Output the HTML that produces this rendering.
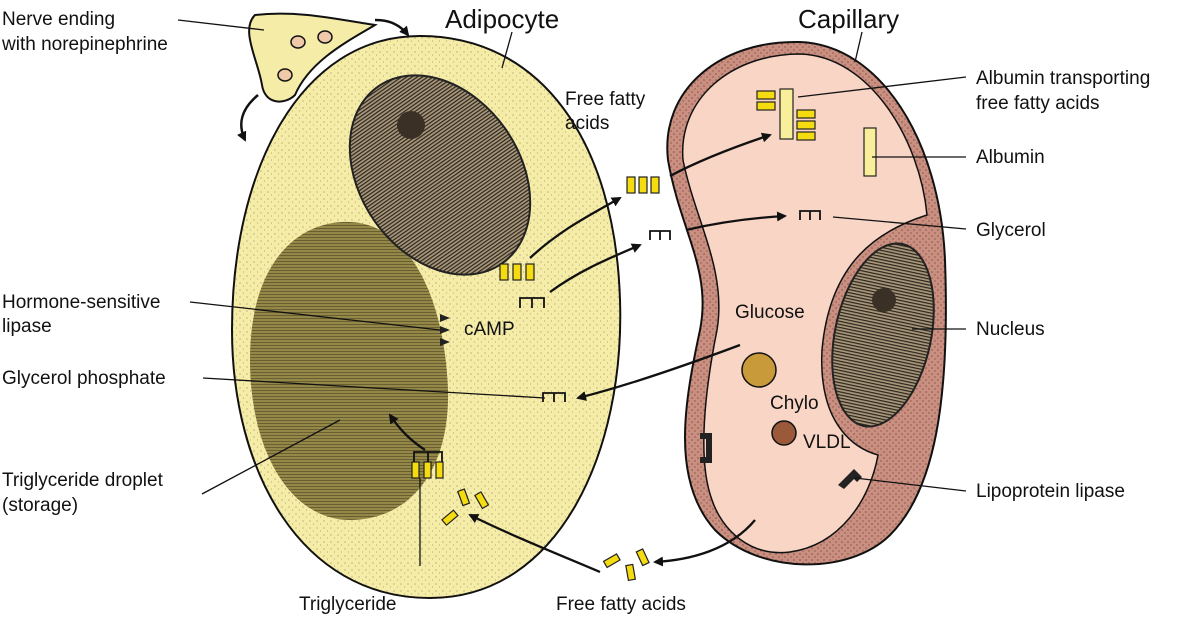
<!DOCTYPE html>
<html><head><meta charset="utf-8"><style>
body{margin:0;background:#fff}
svg text{font-family:"Liberation Sans",Arial,sans-serif;font-size:19px;fill:#111}
</style></head><body>
<svg width="1200" height="616" viewBox="0 0 1200 616" xmlns="http://www.w3.org/2000/svg">
<defs>
<marker id="a" markerWidth="10" markerHeight="10" refX="8" refY="5" orient="auto" markerUnits="userSpaceOnUse"><path d="M0,0 L10,5 L0,10 z" fill="#111"/></marker>
<pattern id="hatch" width="4" height="3" patternUnits="userSpaceOnUse"><rect width="4" height="3" fill="#948849"/><rect width="4" height="1" fill="#6a5f30"/></pattern>
<pattern id="nuc" width="4" height="3" patternUnits="userSpaceOnUse"><rect width="4" height="3" fill="#a8977a"/><rect width="4" height="1.2" fill="#2c251c"/></pattern>
<pattern id="dots" width="7" height="7" patternUnits="userSpaceOnUse"><rect width="7" height="7" fill="#f5eca7"/><circle cx="2" cy="3" r=".6" fill="#9a9060"/><circle cx="5.5" cy="6" r=".5" fill="#9a9060"/></pattern>
<pattern id="wall" width="6" height="6" patternUnits="userSpaceOnUse"><rect width="6" height="6" fill="#c98f80"/><circle cx="2" cy="2" r=".8" fill="#8a5246"/><circle cx="5" cy="5" r=".7" fill="#8a5246"/></pattern>
</defs>
<!-- adipocyte -->
<path d="M420,36 C540,36 615,140 620,300 C625,450 560,598 430,598 C300,598 232,470 232,330 C232,170 300,36 420,36 Z" fill="url(#dots)" stroke="#111" stroke-width="2"/>
<path d="M250,360 C250,260 300,220 350,222 C410,224 445,300 448,390 C450,470 410,520 350,520 C290,520 250,450 250,360 Z" fill="url(#hatch)"/>
<ellipse cx="440" cy="175" rx="80" ry="108" transform="rotate(-35 440 175)" fill="url(#nuc)" stroke="#222" stroke-width="2"/>
<circle cx="411" cy="125" r="14" fill="#3a3025"/>
<!-- nerve ending -->
<path d="M255,15 C300,10 340,20 375,25 C350,40 310,60 295,95 C285,105 265,105 262,85 C258,60 240,30 255,15 Z" fill="#f5eca7" stroke="#111" stroke-width="2"/>
<g fill="#f0c9a8" stroke="#111" stroke-width="1.5"><ellipse cx="298" cy="42" rx="7" ry="6"/><ellipse cx="325" cy="37" rx="7" ry="6"/><ellipse cx="285" cy="75" rx="7" ry="6"/></g>
<g fill="none" stroke="#111" stroke-width="2.5">
<path d="M375,20 C390,20 400,25 408,35" marker-end="url(#a)"/>
<path d="M258,95 C240,110 238,125 245,140" marker-end="url(#a)"/>
</g>
<!-- capillary -->
<path d="M800,42 C880,45 940,140 945,260 C950,400 935,490 890,535 C850,575 760,575 715,530 C670,480 685,400 700,330 C712,270 680,230 668,160 C660,90 720,40 800,42 Z" fill="url(#wall)" stroke="#111" stroke-width="2"/>
<path d="M800,54 C870,56 920,140 927,215 C880,230 830,260 822,350 C818,430 860,450 878,455 C870,500 840,545 790,552 C750,557 722,530 712,500 C697,460 705,390 717,330 C727,270 695,220 683,160 C678,100 730,54 800,54 Z" fill="#f9d5c6" stroke="#111" stroke-width="1.5"/>
<ellipse cx="883" cy="335" rx="48" ry="93" transform="rotate(12 883 335)" fill="url(#nuc)" stroke="#222" stroke-width="2"/>
<circle cx="884" cy="300" r="12" fill="#3a3025"/>
<circle cx="759" cy="370" r="17" fill="#c99a3a" stroke="#111" stroke-width="1.5"/>
<circle cx="784" cy="433" r="12" fill="#9a5a3a" stroke="#111" stroke-width="1.5"/>
<path d="M700,433 h12 v30 h-12 v-6 h6 v-18 h-6z" fill="#222"/>
<path d="M838,485 l16,-16 8,8 -5,5 -3,-3 -10,10z" fill="#222"/>
<g fill="#f5dc10" stroke="#222" stroke-width="1.2">
<rect x="627" y="177" width="8" height="16"/><rect x="639" y="177" width="8" height="16"/><rect x="651" y="177" width="8" height="16"/>
<rect x="500" y="264" width="8" height="16"/><rect x="513" y="264" width="8" height="16"/><rect x="526" y="264" width="8" height="16"/>
<rect x="757" y="91" width="18" height="8"/><rect x="757" y="102" width="18" height="8"/>
<rect x="797" y="110" width="18" height="8"/><rect x="797" y="121" width="18" height="8"/><rect x="797" y="132" width="18" height="8"/>
<rect x="412" y="462" width="7" height="16"/><rect x="424" y="462" width="7" height="16"/><rect x="436" y="462" width="7" height="16"/>
<rect x="460" y="490" width="7" height="15" transform="rotate(-20 463 497)"/><rect x="478" y="493" width="7" height="15" transform="rotate(-30 481 500)"/><rect x="447" y="510" width="7" height="15" transform="rotate(50 450 517)"/>
<rect x="609" y="553" width="7" height="15" transform="rotate(60 612 560)"/><rect x="627" y="565" width="7" height="15" transform="rotate(-10 630 572)"/><rect x="639" y="550" width="7" height="15" transform="rotate(-25 642 557)"/>
</g>
<g fill="#f9ef9a" stroke="#222" stroke-width="1.2"><rect x="780" y="89" width="13" height="50"/><rect x="864" y="128" width="12" height="48"/></g>
<g fill="none" stroke="#111" stroke-width="1.8">
<path d="M520,308 v-10 h24 v10 M532,298 v10"/>
<path d="M650,240 v-9 h20 v9 M660,231 v9"/>
<path d="M800,220 v-9 h20 v9 M810,211 v9"/>
<path d="M543,402 v-9 h22 v9 M554,393 v9"/>
<path d="M414,462 v-10 h28 v10 M428,452 v10"/>
</g>
<g fill="#222"><path d="M440,314 l10,4 -10,4z"/><path d="M440,326 l10,4 -10,4z"/><path d="M440,338 l10,4 -10,4z"/></g>
<g fill="none" stroke="#111" stroke-width="2.3">
<path d="M530,258 C560,230 590,215 620,198" marker-end="url(#a)"/>
<path d="M550,292 C580,270 610,258 640,245" marker-end="url(#a)"/>
<path d="M670,176 C700,160 740,145 770,135" marker-end="url(#a)"/>
<path d="M686,230 C720,222 750,218 785,216" marker-end="url(#a)"/>
<path d="M740,345 C700,360 630,385 578,398" marker-end="url(#a)"/>
<path d="M425,450 C410,440 400,430 390,415" marker-end="url(#a)"/>
<path d="M755,520 C730,550 690,560 655,562" marker-end="url(#a)"/>
<path d="M600,572 C560,555 510,535 470,515" marker-end="url(#a)"/>
</g>
<g stroke="#111" stroke-width="1.3">
<line x1="178" y1="20" x2="264" y2="30"/>
<line x1="512" y1="32" x2="502" y2="68"/>
<line x1="862" y1="32" x2="855" y2="62"/>
<line x1="190" y1="302" x2="440" y2="330"/>
<line x1="203" y1="378" x2="545" y2="398"/>
<line x1="202" y1="494" x2="340" y2="420"/>
<line x1="420" y1="566" x2="420" y2="478"/>
<line x1="966" y1="77" x2="798" y2="97"/>
<line x1="966" y1="157" x2="872" y2="157"/>
<line x1="966" y1="229" x2="833" y2="217"/>
<line x1="966" y1="329" x2="912" y2="329"/>
<line x1="966" y1="491" x2="855" y2="478"/>
</g>
<text x="2" y="25">Nerve ending</text>
<text x="2" y="50">with norepinephrine</text>
<text x="445" y="28" style="font-size:26px">Adipocyte</text>
<text x="798" y="28" style="font-size:26px">Capillary</text>
<text x="565" y="105">Free fatty</text>
<text x="565" y="129">acids</text>
<text x="976" y="84">Albumin transporting</text>
<text x="976" y="109">free fatty acids</text>
<text x="976" y="163">Albumin</text>
<text x="976" y="236">Glycerol</text>
<text x="976" y="335">Nucleus</text>
<text x="976" y="497">Lipoprotein lipase</text>
<text x="2" y="308">Hormone-sensitive</text>
<text x="2" y="332">lipase</text>
<text x="464" y="335">cAMP</text>
<text x="2" y="384">Glycerol phosphate</text>
<text x="2" y="486">Triglyceride droplet</text>
<text x="2" y="511">(storage)</text>
<text x="299" y="610">Triglyceride</text>
<text x="556" y="610">Free fatty acids</text>
<text x="735" y="318">Glucose</text>
<text x="770" y="409">Chylo</text>
<text x="803" y="448">VLDL</text>
</svg>
</body></html>
